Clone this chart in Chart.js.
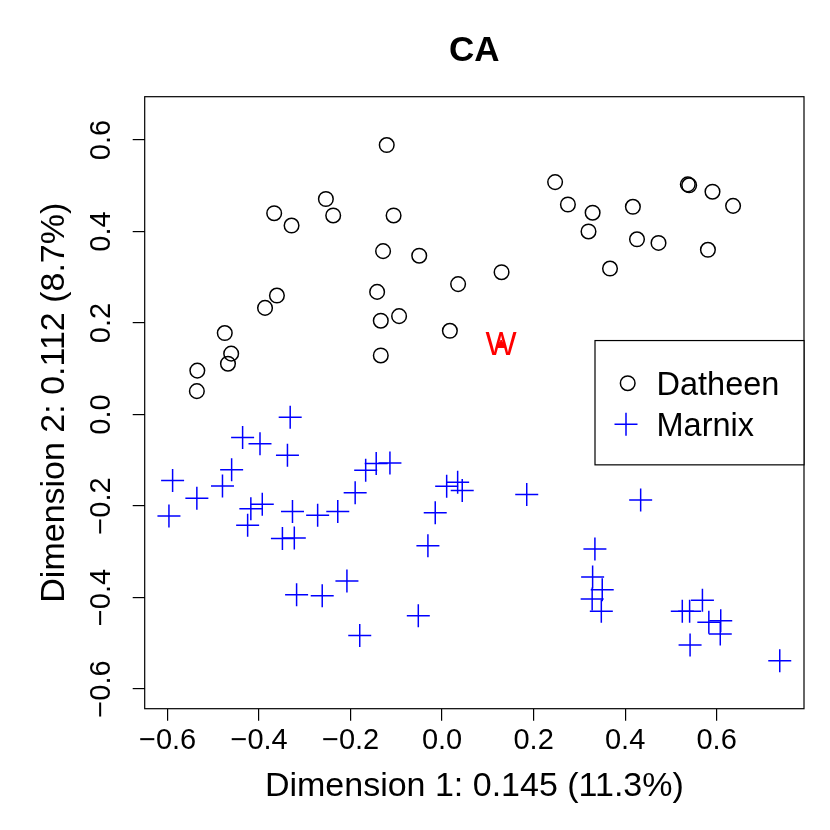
<!DOCTYPE html>
<html>
<head>
<meta charset="utf-8">
<script src="https://cdn.jsdelivr.net/npm/chart.js@4"></script>
<style>
  html, body { margin: 0; padding: 0; background: #ffffff; }
  #wrap { width: 830px; height: 830px; }
</style>
</head>
<body>
<div id="wrap"><canvas id="c" width="830" height="830"></canvas></div>
<script>
// ---- data ----
const chartTitle = "CA";
const xAxisTitle = "Dimension 1: 0.145 (11.3%)";
const yAxisTitle = "Dimension 2: 0.112 (8.7%)";
const seriesNames = ["Datheen", "Marnix"];

const datheenX = [-0.121,-0.254,-0.238,-0.367,-0.329,-0.106,-0.129,-0.050,0.035,-0.142,-0.361,-0.387,-0.134,-0.094,0.017,-0.134,-0.475,-0.461,-0.468,-0.535,-0.536,0.130,0.247,0.275,0.329,0.320,0.417,0.426,0.473,0.367,0.537,0.540,0.591,0.636,0.581];
const datheenY = [0.589,0.471,0.435,0.440,0.413,0.435,0.357,0.347,0.285,0.268,0.260,0.233,0.205,0.215,0.183,0.129,0.178,0.133,0.111,0.096,0.051,0.311,0.508,0.459,0.441,0.400,0.454,0.383,0.375,0.319,0.503,0.501,0.487,0.456,0.360];

const marnixX = [-0.332,-0.436,-0.398,-0.338,-0.460,-0.589,-0.480,-0.536,-0.597,-0.418,-0.393,-0.425,-0.327,-0.349,-0.323,-0.272,-0.228,-0.190,-0.167,-0.144,-0.114,-0.318,-0.262,-0.208,-0.180,-0.052,-0.031,-0.015,0.010,0.034,0.044,0.185,0.434,0.334,0.329,0.350,0.328,0.348,0.525,0.541,0.569,0.583,0.609,0.608,0.542,0.738];
const marnixY = [-0.006,-0.050,-0.064,-0.089,-0.121,-0.144,-0.156,-0.183,-0.222,-0.206,-0.196,-0.242,-0.212,-0.271,-0.270,-0.220,-0.212,-0.171,-0.122,-0.107,-0.106,-0.394,-0.396,-0.364,-0.483,-0.440,-0.287,-0.215,-0.157,-0.148,-0.166,-0.175,-0.187,-0.294,-0.355,-0.383,-0.403,-0.430,-0.430,-0.430,-0.406,-0.454,-0.451,-0.480,-0.504,-0.538];

const labelPointText = ["W"];
const labelPointX = [0.129];
const labelPointY = [0.152];

const xRange = [-0.650, 0.791];
const yRange = [-0.643, 0.6946];
const tickStep = 0.2;

// ---- build ----
function pts(xs, ys) { return xs.map((x, i) => ({x: x, y: ys[i]})); }
function fmt(v) {
  const r = Math.round(v * 10) / 10;
  return r < 0 ? "\u2212" + (-r).toFixed(1) : r.toFixed(1);
}

const FONT = "'Liberation Sans', Arial, Helvetica, sans-serif";
Chart.defaults.font.family = FONT;
Chart.defaults.color = "#000000";

const CIRCLE_R = 7.3, CROSS_R = 11.5, LW = 1.5;

const overlay = {
  id: "overlay",
  afterDraw(chart) {
    const ctx = chart.ctx;
    const a = chart.chartArea;
    const xs = chart.scales.x, ys = chart.scales.y;
    ctx.save();
    // plot box
    ctx.strokeStyle = "#000000";
    ctx.lineWidth = 1.2;
    ctx.strokeRect(a.left, a.top, a.right - a.left, a.bottom - a.top);
    // title
    ctx.fillStyle = "#000000";
    ctx.font = "bold 35px " + FONT;
    ctx.textAlign = "center";
    ctx.textBaseline = "alphabetic";
    ctx.fillText(chartTitle, (a.left + a.right) / 2, 60.7);
    // W label
    ctx.fillStyle = "#ff0000";
    ctx.font = "33px " + FONT;
    ctx.textBaseline = "middle";
    labelPointText.forEach((t, i) => {
      ctx.fillText(t, xs.getPixelForValue(labelPointX[i]), ys.getPixelForValue(labelPointY[i]) + 1);
    });
    // legend
    const bw = 209, bh = 124.3;
    const bx = a.right - bw;
    const cy = (a.top + a.bottom) / 2;
    const by = cy - bh / 2;
    ctx.fillStyle = "#ffffff";
    ctx.fillRect(bx, by, bw, bh);
    ctx.strokeStyle = "#000000";
    ctx.lineWidth = 1.2;
    ctx.strokeRect(bx, by, bw, bh);
    const r1 = cy - 19.5, r2 = cy + 21.5;
    ctx.lineWidth = LW;
    ctx.beginPath();
    ctx.arc(bx + 32.7, r1, CIRCLE_R, 0, Math.PI * 2);
    ctx.strokeStyle = "#000000";
    ctx.stroke();
    ctx.beginPath();
    ctx.strokeStyle = "#0000ff";
    ctx.moveTo(bx + 31 - CROSS_R, r2); ctx.lineTo(bx + 31 + CROSS_R, r2);
    ctx.moveTo(bx + 31, r2 - CROSS_R); ctx.lineTo(bx + 31, r2 + CROSS_R);
    ctx.stroke();
    ctx.fillStyle = "#000000";
    ctx.font = "32.5px " + FONT;
    ctx.textAlign = "left";
    ctx.textBaseline = "alphabetic";
    ctx.fillText(seriesNames[0], bx + 61.5, r1 + 11.6);
    ctx.fillText(seriesNames[1], bx + 61.5, r2 + 11.6);
    ctx.restore();
  }
};

new Chart(document.getElementById("c"), {
  type: "scatter",
  data: {
    datasets: [
      {
        label: seriesNames[0],
        data: pts(datheenX, datheenY),
        pointStyle: "circle",
        radius: CIRCLE_R,
        borderColor: "#000000",
        backgroundColor: "rgba(0,0,0,0)",
        borderWidth: LW
      },
      {
        label: seriesNames[1],
        data: pts(marnixX, marnixY),
        pointStyle: "cross",
        radius: CROSS_R,
        borderColor: "#0000ff",
        backgroundColor: "#0000ff",
        borderWidth: LW
      },
      {
        label: labelPointText[0],
        data: pts(labelPointX, labelPointY),
        pointStyle: "triangle",
        radius: 5,
        borderColor: "#ff0000",
        backgroundColor: "#ff0000",
        borderWidth: 1
      }
    ]
  },
  options: {
    responsive: false,
    animation: false,
    devicePixelRatio: 1,
    layout: { padding: { top: 96.7, right: 26, left: 0, bottom: 0 } },
    plugins: {
      legend: { display: false },
      title: { display: false },
      tooltip: { enabled: false }
    },
    scales: {
      x: {
        type: "linear",
        position: "bottom",
        min: xRange[0],
        max: xRange[1],
        afterFit(s) { s.height = 830 - 708.7; },
        border: { display: false },
        grid: { display: true, drawOnChartArea: false, drawTicks: true, tickLength: 12, color: "#000000", lineWidth: 1.2 },
        ticks: {
          stepSize: tickStep,
          includeBounds: false,
          padding: 3,
          maxRotation: 0,
          autoSkip: false,
          color: "#000000",
          font: { size: 29 },
          callback: (v) => fmt(v)
        },
        title: { display: true, text: xAxisTitle, color: "#000000", font: { size: 34 }, padding: { top: 0, bottom: 22.6 } }
      },
      y: {
        type: "linear",
        position: "left",
        min: yRange[0],
        max: yRange[1],
        afterFit(s) { s.width = 144.7; },
        border: { display: false },
        grid: { display: true, drawOnChartArea: false, drawTicks: true, tickLength: 12, color: "#000000", lineWidth: 1.2 },
        ticks: {
          stepSize: tickStep,
          includeBounds: false,
          padding: 1.6,
          minRotation: 90,
          maxRotation: 90,
          crossAlign: "center",
          autoSkip: false,
          color: "#000000",
          font: { size: 29 },
          callback: (v) => fmt(v)
        },
        title: { display: true, text: yAxisTitle, color: "#000000", font: { size: 34 }, padding: { top: 34.3, bottom: 0 } }
      }
    }
  },
  plugins: [overlay]
});
</script>
</body>
</html>
